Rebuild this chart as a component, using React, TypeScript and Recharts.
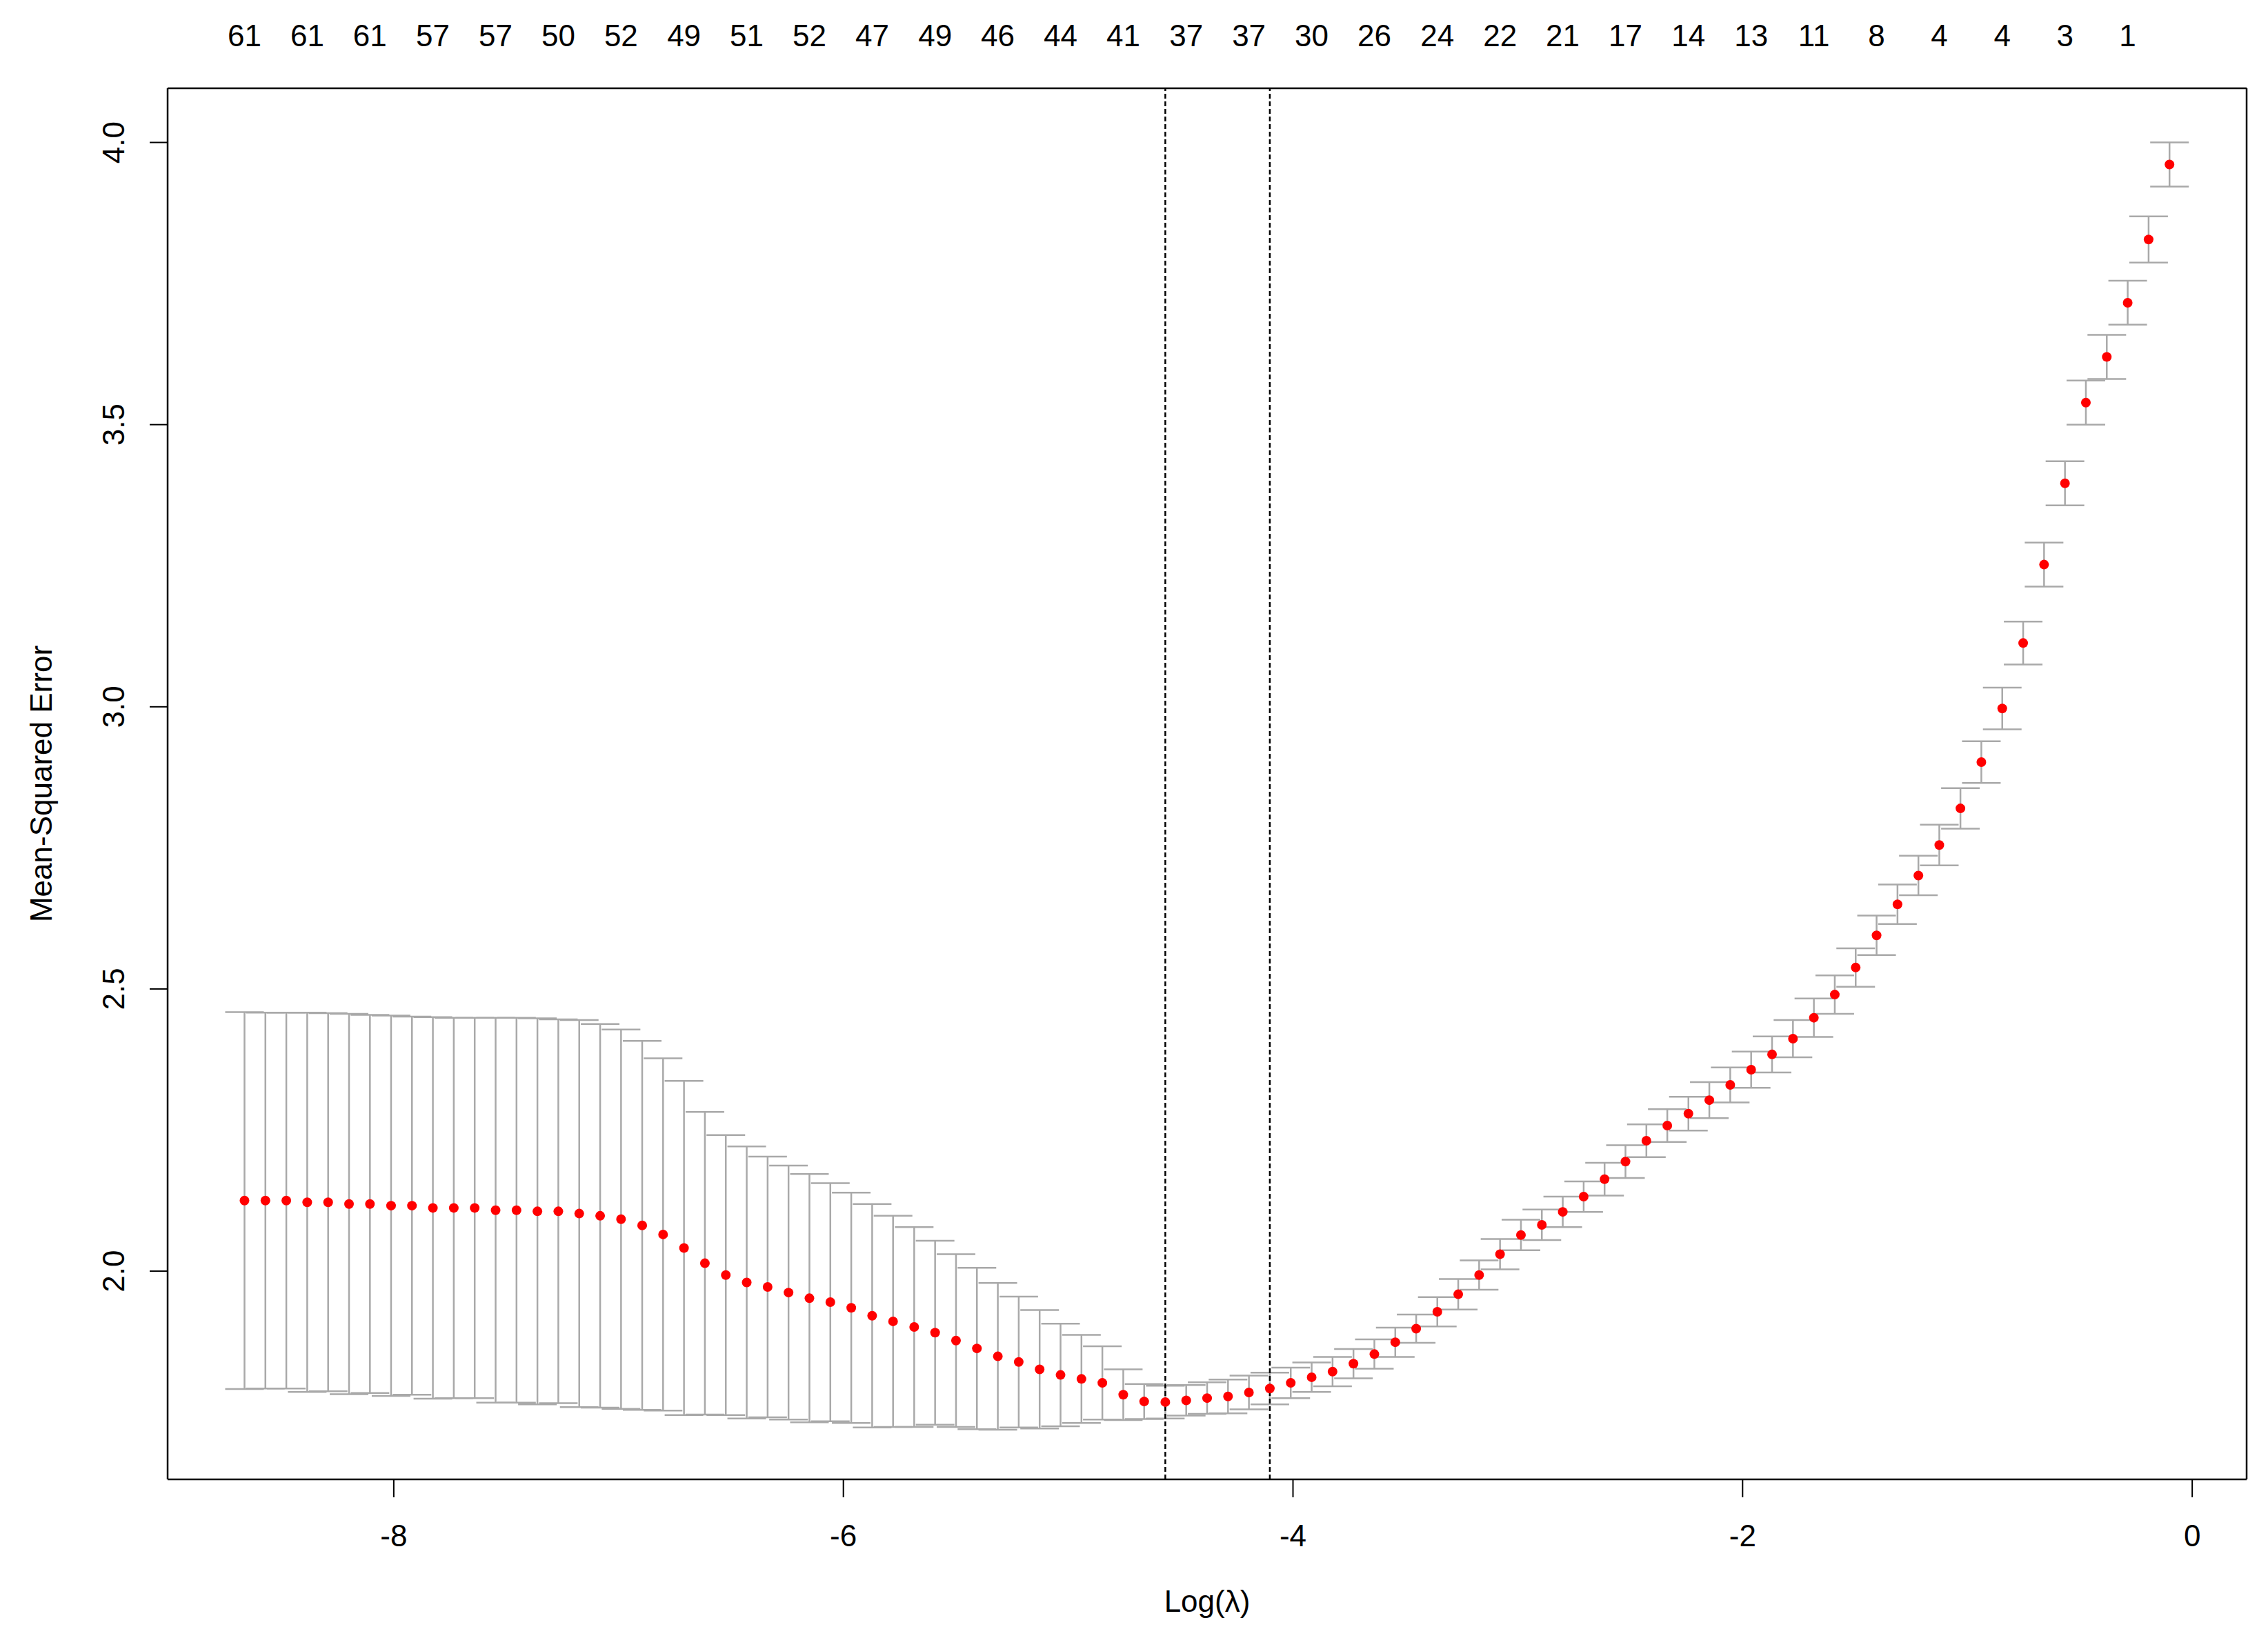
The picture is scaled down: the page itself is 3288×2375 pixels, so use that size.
import { ComposedChart, Scatter, ErrorBar, XAxis, YAxis, ReferenceLine } from 'recharts';

// log(lambda) grid of the cross-validated fit
const logLambda = [
  -8.664, -8.571, -8.478, -8.385, -8.292, -8.199, -8.106, -8.012, -7.919, -7.826,
  -7.733, -7.64, -7.547, -7.454, -7.361, -7.268, -7.175, -7.082, -6.989, -6.895,
  -6.802, -6.709, -6.616, -6.523, -6.43, -6.337, -6.244, -6.151, -6.058, -5.965,
  -5.872, -5.779, -5.685, -5.592, -5.499, -5.406, -5.313, -5.22, -5.127, -5.034,
  -4.941, -4.848, -4.755, -4.662, -4.568, -4.475, -4.382, -4.289, -4.196, -4.103,
  -4.01, -3.917, -3.824, -3.731, -3.638, -3.545, -3.452, -3.358, -3.265, -3.172,
  -3.079, -2.986, -2.893, -2.8, -2.707, -2.614, -2.521, -2.428, -2.335, -2.241,
  -2.148, -2.055, -1.962, -1.869, -1.776, -1.683, -1.59, -1.497, -1.404, -1.311,
  -1.218, -1.125, -1.031, -0.938, -0.845, -0.752, -0.659, -0.566, -0.473, -0.38,
  -0.287, -0.194, -0.101,
];

// mean cross-validated error
const cvMean = [
  2.125, 2.125, 2.125, 2.122, 2.122, 2.119, 2.119, 2.116, 2.116, 2.112,
  2.112, 2.112, 2.108, 2.108, 2.106, 2.106, 2.102, 2.098, 2.092, 2.081,
  2.065, 2.041, 2.014, 1.993, 1.98, 1.972, 1.962, 1.952, 1.945, 1.935,
  1.921, 1.911, 1.901, 1.891, 1.877, 1.863, 1.849, 1.839, 1.826, 1.816,
  1.809, 1.802, 1.781, 1.769, 1.768, 1.771, 1.775, 1.778, 1.785, 1.792,
  1.802, 1.812, 1.822, 1.836, 1.853, 1.874, 1.898, 1.928, 1.959, 1.993,
  2.03, 2.064, 2.082, 2.105, 2.132, 2.163, 2.194, 2.231, 2.258, 2.279,
  2.303, 2.33, 2.357, 2.384, 2.412, 2.449, 2.49, 2.538, 2.595, 2.65,
  2.701, 2.755, 2.82, 2.902, 2.997, 3.113, 3.252, 3.396, 3.539, 3.62,
  3.716, 3.828, 3.961,
];

// standard error of the CV estimate (half height of each bar)
const cvSd = [
  0.334, 0.333, 0.333, 0.336, 0.335, 0.337, 0.335, 0.337, 0.335, 0.338,
  0.337, 0.337, 0.341, 0.341, 0.342, 0.34, 0.343, 0.34, 0.336, 0.327,
  0.312, 0.296, 0.268, 0.248, 0.241, 0.231, 0.225, 0.22, 0.211, 0.204,
  0.198, 0.187, 0.177, 0.163, 0.153, 0.143, 0.13, 0.116, 0.105, 0.091,
  0.078, 0.065, 0.045, 0.031, 0.029, 0.027, 0.028, 0.03, 0.03, 0.028,
  0.027, 0.026, 0.026, 0.026, 0.026, 0.026, 0.025, 0.026, 0.027, 0.026,
  0.027, 0.027, 0.027, 0.027, 0.027, 0.029, 0.029, 0.029, 0.029, 0.03,
  0.032, 0.031, 0.032, 0.032, 0.033, 0.034, 0.034, 0.034, 0.035, 0.035,
  0.035, 0.036, 0.036, 0.037, 0.037, 0.038, 0.039, 0.039, 0.039, 0.039,
  0.039, 0.041, 0.039,
];

// number of non-zero coefficients, shown above every third lambda
const nonzeroCounts = [
  61, 61, 61, 57, 57, 50, 52, 49, 51, 52, 47, 49, 46, 44, 41, 37,
  37, 30, 26, 24, 22, 21, 17, 14, 13, 11, 8, 4, 4, 3, 1,
];

const xTicks = [-8, -6, -4, -2, 0];
const yTicks = [2.0, 2.5, 3.0, 3.5, 4.0];
const xDomain = [-9.006, 0.242];
const yDomain = [1.631, 4.096];
const lambdaMin = -4.568;
const lambda1se = -4.103;

const FONT = '"Liberation Sans", Arial, sans-serif';
const FONT_SIZE = 44;

const points = logLambda.map((x, i) => ({ logLambda: x, cvm: cvMean[i], cvsd: cvSd[i] }));
const topTickPos = logLambda.filter((_, i) => i % 3 === 0);

function BottomTick({ x, y, payload }: any) {
  return (
    <text x={x} y={y} textAnchor="middle" fontSize={FONT_SIZE} fontFamily={FONT} fill="#000">
      {payload.value}
    </text>
  );
}

function LeftTick({ x, y, payload }: any) {
  return (
    <text
      x={x}
      y={y}
      transform={`rotate(-90 ${x} ${y})`}
      textAnchor="middle"
      fontSize={FONT_SIZE}
      fontFamily={FONT}
      fill="#000"
    >
      {Number(payload.value).toFixed(1)}
    </text>
  );
}

function TopTick({ x, y, index }: any) {
  return (
    <text x={x} y={y} textAnchor="middle" fontSize={FONT_SIZE} fontFamily={FONT} fill="#000">
      {nonzeroCounts[index]}
    </text>
  );
}

function RedDot({ cx, cy }: any) {
  return <circle cx={cx} cy={cy} r={7} fill="#ff0000" />;
}

function NoDot() {
  return null;
}

function YTitle(props: any) {
  const vb = props.viewBox ?? { x: 0, y: 128, width: 243, height: 2017 };
  const x = vb.x + 75;
  const y = vb.y + vb.height / 2;
  return (
    <text
      x={x}
      y={y}
      transform={`rotate(-90 ${x} ${y})`}
      textAnchor="middle"
      fontSize={FONT_SIZE}
      fontFamily={FONT}
      fill="#000"
    >
      Mean-Squared Error
    </text>
  );
}

function XTitle(props: any) {
  const vb = props.viewBox ?? { x: 243, y: 2145, width: 3014, height: 230 };
  return (
    <text
      x={vb.x + vb.width / 2}
      y={vb.y + 192}
      textAnchor="middle"
      fontSize={FONT_SIZE}
      fontFamily={FONT}
      fill="#000"
    >
      Log(λ)
    </text>
  );
}

export default function App() {
  const axisLine = { stroke: '#000', strokeWidth: 2.5 };
  const tickLine = { stroke: '#000', strokeWidth: 2 };

  return (
    <div style={{ position: 'absolute', left: 0, top: 0, background: '#fff' }}>
      <ComposedChart
        width={3288}
        height={2375}
        data={points}
        margin={{ top: 0, right: 0, bottom: 0, left: 0 }}
      >
        <XAxis
          xAxisId="main"
          dataKey="logLambda"
          type="number"
          orientation="bottom"
          domain={xDomain}
          allowDataOverflow
          ticks={xTicks}
          interval={0}
          height={230}
          tickSize={26}
          tickMargin={71}
          axisLine={axisLine}
          tickLine={tickLine}
          tick={<BottomTick />}
          label={{ content: XTitle }}
        />
        <XAxis
          xAxisId="top"
          dataKey="logLambda"
          type="number"
          orientation="top"
          domain={xDomain}
          allowDataOverflow
          ticks={topTickPos}
          interval={0}
          height={128}
          tickSize={0}
          tickMargin={61}
          axisLine={axisLine}
          tickLine={false}
          tick={<TopTick />}
        />
        <YAxis
          yAxisId="main"
          type="number"
          orientation="left"
          domain={yDomain}
          allowDataOverflow
          ticks={yTicks}
          interval={0}
          width={243}
          tickSize={26}
          tickMargin={37}
          axisLine={axisLine}
          tickLine={tickLine}
          tick={<LeftTick />}
          label={{ content: YTitle }}
        />
        <YAxis
          yAxisId="right"
          type="number"
          orientation="right"
          domain={yDomain}
          allowDataOverflow
          width={31}
          axisLine={axisLine}
          tickLine={false}
          tick={false}
        />
        {/* invisible series so the top axis gets a numeric scale */}
        <Scatter
          xAxisId="top"
          yAxisId="right"
          data={points}
          dataKey="cvm"
          shape={<NoDot />}
          isAnimationActive={false}
        />
        <Scatter
          xAxisId="main"
          yAxisId="main"
          data={points}
          dataKey="cvm"
          shape={<RedDot />}
          isAnimationActive={false}
        >
          <ErrorBar
            dataKey="cvsd"
            direction="y"
            width={28}
            stroke="#a9a9a9"
            strokeWidth={2.5}
            isAnimationActive={false}
          />
        </Scatter>
        <ReferenceLine
          xAxisId="main"
          yAxisId="main"
          x={lambdaMin}
          stroke="#000"
          strokeWidth={2.5}
          strokeDasharray="7 4"
        />
        <ReferenceLine
          xAxisId="main"
          yAxisId="main"
          x={lambda1se}
          stroke="#000"
          strokeWidth={2.5}
          strokeDasharray="7 4"
        />
      </ComposedChart>
    </div>
  );
}
